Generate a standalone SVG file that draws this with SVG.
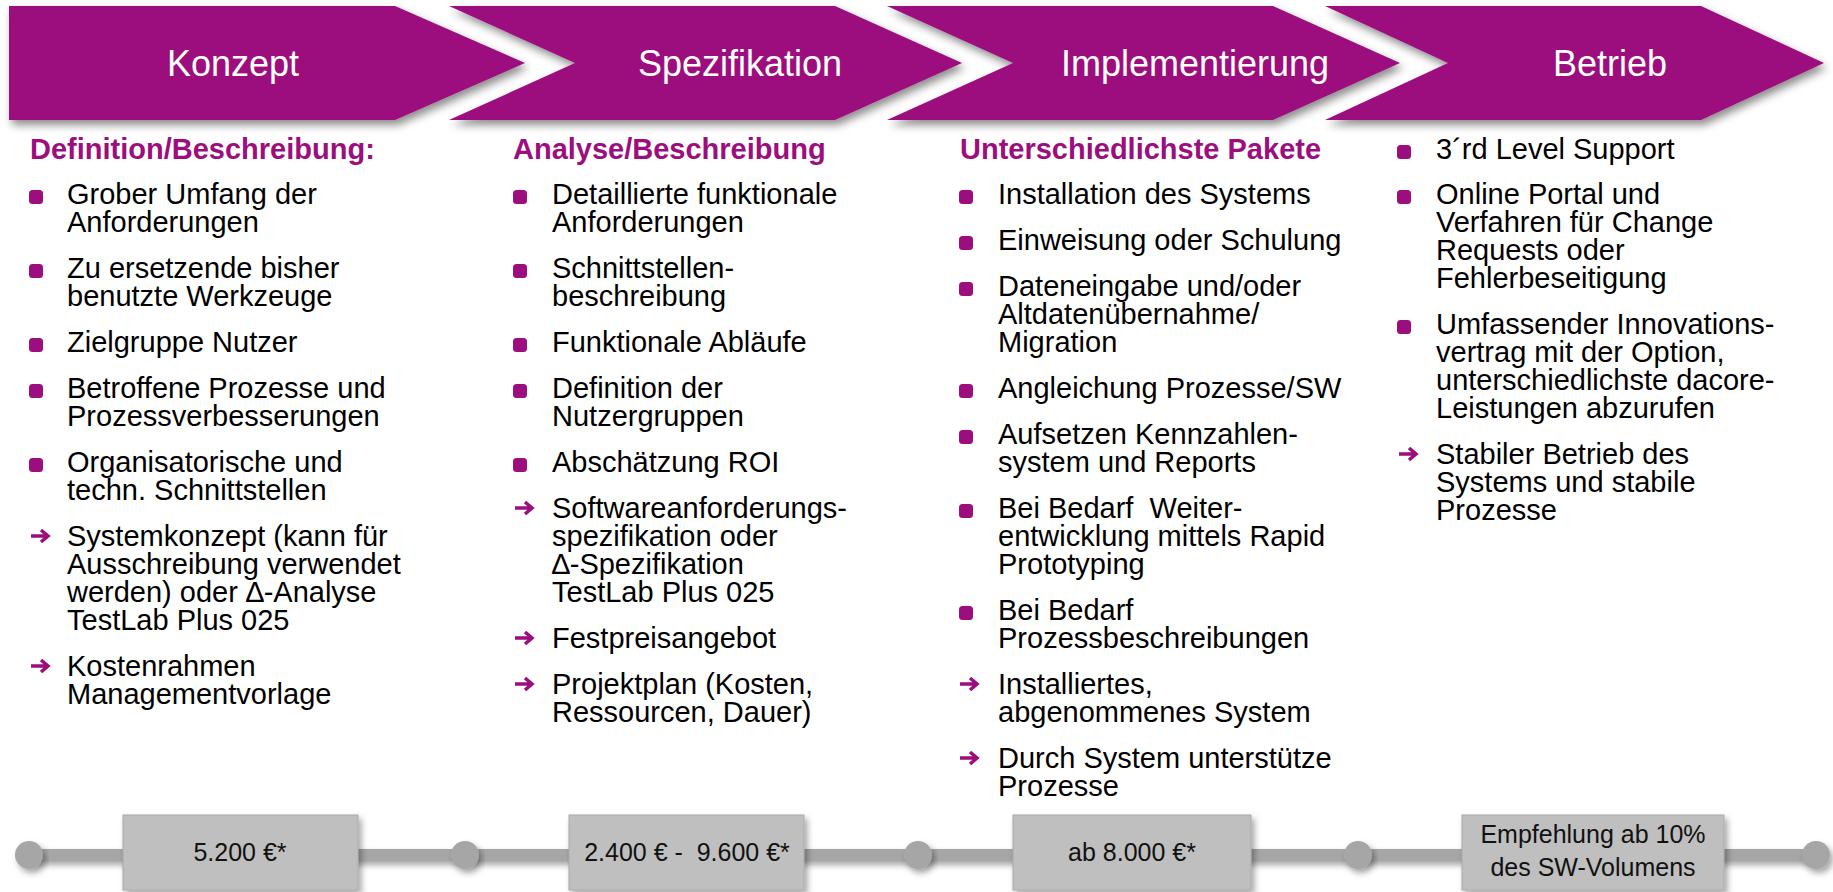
<svg xmlns="http://www.w3.org/2000/svg" xmlns:xlink="http://www.w3.org/1999/xlink" width="1833" height="892" viewBox="0 0 1833 892">
<defs>
<style>
.chev{fill:#9C0E7E;filter:url(#sh)}
.ct{font-family:"Liberation Sans",Arial,sans-serif;font-size:36px;fill:#fff;text-anchor:middle}
.hd{font-family:"Liberation Sans",Arial,sans-serif;font-size:29px;font-weight:bold;fill:#9C0E7E}
.tx{font-family:"Liberation Sans",Arial,sans-serif;font-size:29px;fill:#000;white-space:pre}
.bx{fill:#BFBFBF;stroke:#A8A8A8;stroke-width:1;filter:url(#sh2)}
.bt{font-family:"Liberation Sans",Arial,sans-serif;font-size:25px;fill:#111;text-anchor:middle;white-space:pre}
.dot{fill:#A6A6A6;filter:url(#sh2)}
.tl{fill:#A6A6A6;filter:url(#sh3)}
</style>
<filter id="sh" x="-5%" y="-20%" width="115%" height="150%"><feDropShadow dx="3" dy="5" stdDeviation="4" flood-color="#000" flood-opacity="0.45"/></filter>
<filter id="sh2" x="-20%" y="-40%" width="140%" height="180%"><feDropShadow dx="3" dy="4" stdDeviation="3" flood-color="#000" flood-opacity="0.35"/></filter>
<filter id="sh3" filterUnits="userSpaceOnUse" x="0" y="830" width="1833" height="50"><feDropShadow dx="2" dy="4" stdDeviation="3" flood-color="#000" flood-opacity="0.35"/></filter>
<rect id="sq" width="14" height="14" rx="3.5" fill="#9C0E7E"/>
<path id="arr" d="M0,0 H15 M10,-6 L17,0 L10,6" fill="none" stroke="#9C0E7E" stroke-width="3.5"/>
</defs>
<rect width="1833" height="892" fill="#fff"/>

<g id="phase-konzept">
<polygon class="chev" points="9,6 395,6 525,63 395,120 9,120"/>
<text class="ct" x="233" y="76">Konzept</text>
</g>
<g id="phase-spezifikation">
<polygon class="chev" points="449,6 835,6 962,63 835,120 449,120 575,63"/>
<text class="ct" x="740" y="76">Spezifikation</text>
</g>
<g id="phase-implementierung">
<polygon class="chev" points="887,6 1273,6 1400,63 1273,120 887,120 1013,63"/>
<text class="ct" x="1195" y="76">Implementierung</text>
</g>
<g id="phase-betrieb">
<polygon class="chev" points="1325,6 1701,6 1824,63 1701,120 1325,120 1448,63"/>
<text class="ct" x="1610" y="76">Betrieb</text>
</g>

<g id="col-konzept">
<text class="hd" x="30" y="159">Definition/Beschreibung:</text>
<use href="#sq" x="29" y="190"/>
<use href="#sq" x="29" y="264"/>
<use href="#sq" x="29" y="338"/>
<use href="#sq" x="29" y="384"/>
<use href="#sq" x="29" y="458"/>
<use href="#arr" x="31" y="536"/>
<use href="#arr" x="31" y="666"/>
<text class="tx">
<tspan x="67" y="204">Grober Umfang der</tspan><tspan x="67" y="232">Anforderungen</tspan>
<tspan x="67" y="278">Zu ersetzende bisher</tspan><tspan x="67" y="306">benutzte Werkzeuge</tspan>
<tspan x="67" y="352">Zielgruppe Nutzer</tspan>
<tspan x="67" y="398">Betroffene Prozesse und</tspan><tspan x="67" y="426">Prozessverbesserungen</tspan>
<tspan x="67" y="472">Organisatorische und</tspan><tspan x="67" y="500">techn. Schnittstellen</tspan>
<tspan x="67" y="546">Systemkonzept (kann für</tspan><tspan x="67" y="574">Ausschreibung verwendet</tspan><tspan x="67" y="602">werden) oder ∆-Analyse</tspan><tspan x="67" y="630">TestLab Plus 025</tspan>
<tspan x="67" y="676">Kostenrahmen</tspan><tspan x="67" y="704">Managementvorlage</tspan>
</text>
</g>

<g id="col-spezifikation">
<text class="hd" x="513" y="159">Analyse/Beschreibung</text>
<use href="#sq" x="513" y="190"/>
<use href="#sq" x="513" y="264"/>
<use href="#sq" x="513" y="338"/>
<use href="#sq" x="513" y="384"/>
<use href="#sq" x="513" y="458"/>
<use href="#arr" x="515" y="508"/>
<use href="#arr" x="515" y="638"/>
<use href="#arr" x="515" y="684"/>
<text class="tx">
<tspan x="552" y="204">Detaillierte funktionale</tspan><tspan x="552" y="232">Anforderungen</tspan>
<tspan x="552" y="278">Schnittstellen-</tspan><tspan x="552" y="306">beschreibung</tspan>
<tspan x="552" y="352">Funktionale Abläufe</tspan>
<tspan x="552" y="398">Definition der</tspan><tspan x="552" y="426">Nutzergruppen</tspan>
<tspan x="552" y="472">Abschätzung ROI</tspan>
<tspan x="552" y="518">Softwareanforderungs-</tspan><tspan x="552" y="546">spezifikation oder</tspan><tspan x="552" y="574">∆-Spezifikation</tspan><tspan x="552" y="602">TestLab Plus 025</tspan>
<tspan x="552" y="648">Festpreisangebot</tspan>
<tspan x="552" y="694">Projektplan (Kosten,</tspan><tspan x="552" y="722">Ressourcen, Dauer)</tspan>
</text>
</g>

<g id="col-implementierung">
<text class="hd" x="960" y="159">Unterschiedlichste Pakete</text>
<use href="#sq" x="959" y="190"/>
<use href="#sq" x="959" y="236"/>
<use href="#sq" x="959" y="282"/>
<use href="#sq" x="959" y="384"/>
<use href="#sq" x="959" y="430"/>
<use href="#sq" x="959" y="504"/>
<use href="#sq" x="959" y="606"/>
<use href="#arr" x="960" y="684"/>
<use href="#arr" x="960" y="758"/>
<text class="tx">
<tspan x="998" y="204">Installation des Systems</tspan>
<tspan x="998" y="250">Einweisung oder Schulung</tspan>
<tspan x="998" y="296">Dateneingabe und/oder</tspan><tspan x="998" y="324">Altdatenübernahme/</tspan><tspan x="998" y="352">Migration</tspan>
<tspan x="998" y="398">Angleichung Prozesse/SW</tspan>
<tspan x="998" y="444">Aufsetzen Kennzahlen-</tspan><tspan x="998" y="472">system und Reports</tspan>
<tspan x="998" y="518">Bei Bedarf  Weiter-</tspan><tspan x="998" y="546">entwicklung mittels Rapid</tspan><tspan x="998" y="574">Prototyping</tspan>
<tspan x="998" y="620">Bei Bedarf</tspan><tspan x="998" y="648">Prozessbeschreibungen</tspan>
<tspan x="998" y="694">Installiertes,</tspan><tspan x="998" y="722">abgenommenes System</tspan>
<tspan x="998" y="768">Durch System unterstütze</tspan><tspan x="998" y="796">Prozesse</tspan>
</text>
</g>

<g id="col-betrieb">
<use href="#sq" x="1397" y="145"/>
<use href="#sq" x="1397" y="190"/>
<use href="#sq" x="1397" y="320"/>
<use href="#arr" x="1399" y="454"/>
<text class="tx">
<tspan x="1436" y="159">3´rd Level Support</tspan>
<tspan x="1436" y="204">Online Portal und</tspan><tspan x="1436" y="232">Verfahren für Change</tspan><tspan x="1436" y="260">Requests oder</tspan><tspan x="1436" y="288">Fehlerbeseitigung</tspan>
<tspan x="1436" y="334">Umfassender Innovations-</tspan><tspan x="1436" y="362">vertrag mit der Option,</tspan><tspan x="1436" y="390">unterschiedlichste dacore-</tspan><tspan x="1436" y="418">Leistungen abzurufen</tspan>
<tspan x="1436" y="464">Stabiler Betrieb des</tspan><tspan x="1436" y="492">Systems und stabile</tspan><tspan x="1436" y="520">Prozesse</tspan>
</text>
</g>

<g id="connectors">
<rect class="tl" x="29" y="849" width="1787" height="12"/>
</g>

<g id="milestones">
<circle class="dot" cx="29" cy="855" r="14"/>
<circle class="dot" cx="465" cy="855" r="14"/>
<circle class="dot" cx="918" cy="855" r="14"/>
<circle class="dot" cx="1358" cy="855" r="14"/>
<circle class="dot" cx="1816" cy="855" r="14"/>
</g>

<g id="cost-konzept">
<rect class="bx" x="123" y="815" width="235" height="75"/>
<text class="bt" x="240" y="861">5.200 €*</text>
</g>
<g id="cost-spezifikation">
<rect class="bx" x="569" y="815" width="235" height="75"/>
<text class="bt" x="687" y="861">2.400 € -  9.600 €*</text>
</g>
<g id="cost-implementierung">
<rect class="bx" x="1013" y="815" width="238" height="75"/>
<text class="bt" x="1132" y="861">ab 8.000 €*</text>
</g>
<g id="cost-betrieb">
<rect class="bx" x="1462" y="815" width="262" height="75"/>
<text class="bt" x="1593" y="843">Empfehlung ab 10%</text>
<text class="bt" x="1593" y="876">des SW-Volumens</text>
</g>
</svg>
